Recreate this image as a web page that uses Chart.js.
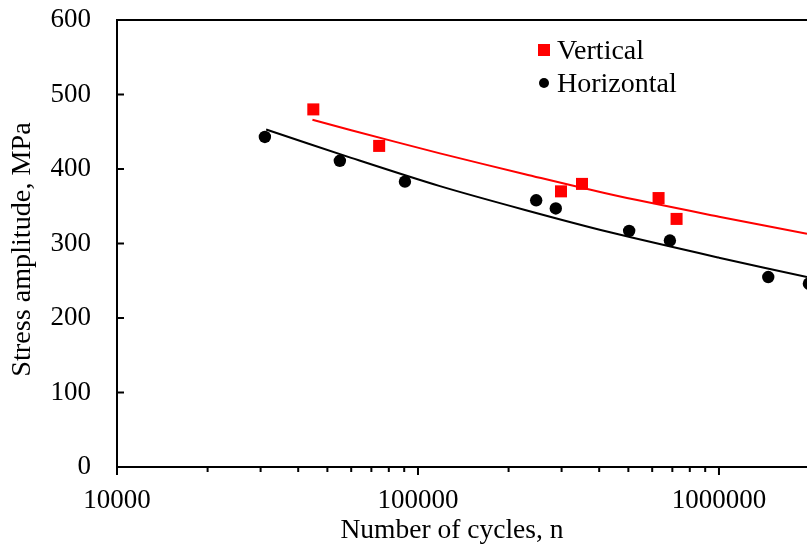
<!DOCTYPE html>
<html>
<head>
<meta charset="utf-8">
<title>Stress amplitude vs number of cycles</title>
<script src="https://cdn.jsdelivr.net/npm/chart.js@4/dist/chart.umd.min.js"></script>
<style>
  html, body { margin: 0; padding: 0; background: #fff; overflow: hidden; }
  #wrap { position: relative; width: 807px; height: 545px; }
  #legend { position: absolute; left: 537px; top: 33px; font: 28px "Liberation Serif", "Times New Roman", serif; color: #000; }
  .legend-item { display: flex; align-items: center; height: 33px; white-space: nowrap; }
  .legend-mark { width: 13px; height: 13px; margin-right: 7px; display: flex; align-items: center; justify-content: center; }
  .legend-mark span { display: block; }
</style>
</head>
<body>
<div id="wrap">
  <canvas id="chart" width="807" height="545"></canvas>
  <div id="legend"></div>
</div>
<script>
// S-N data: stress amplitude (MPa) vs cycles to failure.
const verticalCycles = [44900, 74300, 298600, 350700, 630000, 723000];
const verticalStress = [480, 431, 370, 380, 361, 333];
const horizontalCycles = [31000, 55000, 90500, 247000, 287000, 503000, 687000, 1458000, 1990000];
const horizontalStress = [443, 411, 383, 358, 347, 317, 304, 255, 246];

// Trend lines, sampled from the curves in the figure.
const verticalFitCycles = [44600, 60000, 118300, 226800, 434600, 1000000, 1961000];
const verticalFitStress = [466, 452, 421, 393, 366, 336, 313];
const horizontalFitCycles = [31300, 60000, 118300, 226800, 434600, 1000000, 1961000];
const horizontalFitStress = [453, 415, 377, 345, 315, 281, 255];

// Axes
const xDecades = [10000, 100000, 1000000];
const xSteps = [1, 2, 3, 4, 5, 6, 7, 8, 9];
const X_MIN = 10000, X_MAX = 1961000;
const yTicks = [0, 100, 200, 300, 400, 500, 600];
const xTitle = "Number of cycles, n";
const yTitle = "Stress amplitude, MPa";

const FONT = '"Liberation Serif", "Times New Roman", serif';
Chart.defaults.font.family = FONT;
Chart.defaults.font.size = 27;
Chart.defaults.color = "#000";

const toPoints = (xs, ys) => xs.map((x, i) => ({ x, y: ys[i] }));

// the scales would otherwise reserve label overflow + padding around the plot
const noPad = scale => {
  scale.paddingTop = 0; scale.paddingBottom = 0;
  scale.paddingLeft = 0; scale.paddingRight = 0;
};

// frame top line + inward y ticks + outward x ticks (major longer) + axis titles.
// Titles are drawn here because the source figure is cropped on the right,
// so the x title isn't centred on the visible axis.
const frameTicks = {
  id: "frameTicks",
  afterDraw(chart) {
    const { ctx, chartArea, scales } = chart;
    ctx.save();
    ctx.strokeStyle = "#000";
    ctx.lineWidth = 2;
    ctx.beginPath();
    ctx.moveTo(chartArea.left - 1, chartArea.top);
    ctx.lineTo(chartArea.right, chartArea.top);
    scales.y.ticks.forEach(t => {
      const y = scales.y.getPixelForValue(t.value);
      ctx.moveTo(chartArea.left, y);
      ctx.lineTo(chartArea.left + 7, y);
    });
    scales.x.ticks.forEach(t => {
      const x = scales.x.getPixelForValue(t.value);
      ctx.moveTo(x, chartArea.bottom);
      ctx.lineTo(x, chartArea.bottom + (t.major ? 8 : 5));
    });
    ctx.stroke();

    ctx.fillStyle = "#000";
    ctx.textAlign = "center";
    ctx.textBaseline = "middle";
    ctx.font = `27.5px ${FONT}`;
    ctx.fillText(xTitle, 452, 531);
    ctx.translate(23, 249.5);
    ctx.rotate(-Math.PI / 2);
    ctx.font = `28.2px ${FONT}`;
    ctx.fillText(yTitle, 0, 0);
    ctx.restore();
  }
};

const chart = new Chart(document.getElementById("chart"), {
  type: "scatter",
  data: {
    datasets: [
      {
        label: "Vertical", data: toPoints(verticalCycles, verticalStress),
        pointStyle: "rect", pointRadius: 8.5, pointHoverRadius: 8.5,
        backgroundColor: "#ff0000", borderColor: "#ff0000", borderWidth: 0, legend: true
      },
      {
        label: "Horizontal", data: toPoints(horizontalCycles, horizontalStress),
        pointStyle: "circle", pointRadius: 6.2, pointHoverRadius: 6.2,
        backgroundColor: "#000", borderColor: "#000", borderWidth: 0, legend: true
      },
      {
        label: "Vertical fit", data: toPoints(verticalFitCycles, verticalFitStress),
        showLine: true, pointRadius: 0, borderColor: "#ff0000", borderWidth: 2,
        tension: 0.3, fill: false
      },
      {
        label: "Horizontal fit", data: toPoints(horizontalFitCycles, horizontalFitStress),
        showLine: true, pointRadius: 0, borderColor: "#000", borderWidth: 2,
        tension: 0.3, fill: false
      }
    ]
  },
  options: {
    responsive: false,
    animation: false,
    events: [],
    layout: { autoPadding: false, padding: { top: 20, left: 0, right: 0, bottom: 0 } },
    plugins: { legend: { display: false }, tooltip: { enabled: false } },
    scales: {
      x: {
        type: "logarithmic",
        min: X_MIN, max: X_MAX,
        afterBuildTicks: scale => {
          const ticks = [];
          xDecades.forEach(d => xSteps.forEach(s => {
            const v = d * s;
            if (v >= X_MIN && v <= X_MAX) ticks.push({ value: v, major: s === 1 });
          }));
          scale.ticks = ticks;
        },
        afterFit: scale => { scale.height = 78; noPad(scale); },
        grid: { drawOnChartArea: false, drawTicks: false },
        border: { display: true, color: "#000", width: 2 },
        ticks: {
          autoSkip: false, maxRotation: 0, padding: 18,
          callback: v => xDecades.includes(v) ? String(v) : ""
        },
        title: { display: false }
      },
      y: {
        min: 0, max: 600,
        afterBuildTicks: scale => { scale.ticks = yTicks.map(v => ({ value: v })); },
        afterFit: scale => { scale.width = 117; noPad(scale); },
        grid: { drawOnChartArea: false, drawTicks: false },
        border: { display: true, color: "#000", width: 2 },
        ticks: { padding: 26 },
        title: { display: false }
      }
    }
  },
  plugins: [frameTicks]
});

// legend drawn as HTML inside the plot area, built from the marker datasets
const legendEl = document.getElementById("legend");
legendEl.innerHTML = chart.data.datasets.filter(d => d.legend).map(d => {
  const shape = d.pointStyle === "rect"
    ? `<span style="width:12px;height:12px;background:${d.backgroundColor}"></span>`
    : `<span style="width:10px;height:10px;border-radius:50%;background:${d.backgroundColor}"></span>`;
  return `<div class="legend-item"><div class="legend-mark">${shape}</div>${d.label}</div>`;
}).join("");
</script>
</body>
</html>
